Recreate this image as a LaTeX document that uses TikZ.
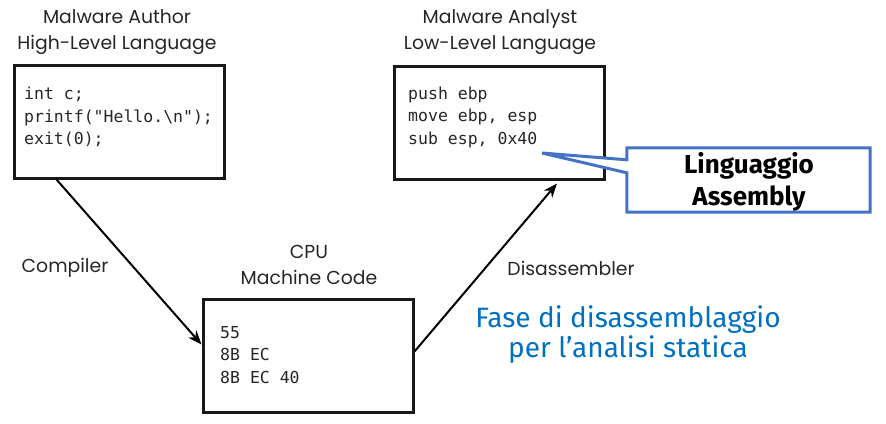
\documentclass[tikz,border=0pt]{standalone}
\usepackage{fontspec}
\setmainfont{Poppins}
\newfontfamily\codefont{DejaVu Sans Mono}
\newfontfamily\handfont{Fira Sans}
\usetikzlibrary{arrows.meta,calc}
\definecolor{calloutblue}{RGB}{68,114,196}
\definecolor{noteblue}{RGB}{0,112,192}
\tikzset{
  box/.style={draw=black!90, line width=3pt, fill=white, minimum width=210pt, minimum height=113pt, inner sep=0pt},
  code/.style={font=\codefont\fontsize{16.5}{22.5}\selectfont, align=left, anchor=west, inner sep=0pt, text=black!85},
  lbl/.style={font=\fontsize{18.8}{26}\selectfont, align=center, inner sep=0pt, text=black!85},
  flow/.style={line width=2pt, -{Stealth[length=14pt,width=11pt]}},
  note/.style={font=\handfont\fontsize{28}{30}\selectfont, align=center, text=noteblue, inner sep=0pt},
  calltext/.style={font=\handfont\bfseries\fontsize{26}{32}\selectfont, align=center, inner sep=0pt}
}
\begin{document}
\begin{tikzpicture}[x=1pt,y=-1pt]
\useasboundingbox (0,0) rectangle (886,423);
% boxes
\node[box] (hl) at (119,121.5) {};
\node[box] (ll) at (499.5,122.5) {};
\node[box] (mc) at (308,355.5) {};
% headers
\node[lbl] (hlh) at (117,32) {Malware Author\\High-Level Language};
\node[lbl] (llh) at (500,32) {Malware Analyst\\Low-Level Language};
\node[lbl] (mch) at (309,265) {CPU\\Machine Code};
% code
\node[code] (hlc) at (24,117) {int c;\\printf("Hello.\textbackslash n");\\exit(0);};
\node[code] (llc) at (408,117) {push ebp\\move ebp, esp\\sub esp, 0x40};
\node[code] (mcc) at (220,355) {55\\8B EC\\8B EC 40};
% arrows
\coordinate (a1s) at ($(hl.south west)+(44,0)$);
\coordinate (a1e) at ($(mc.west)+(0,-11)$);
\draw[flow] (a1s) -- (a1e);
\coordinate (a2s) at ($(mc.east)+(0,-4)$);
\coordinate (a2e) at ($(ll.south east)+(-49,3)$);
\draw[flow] (a2s) -- (a2e);
\node[lbl] (comp) at (65,268) {Compiler};
\node[lbl] (dis) at (571,268) {Disassembler};
% callout
\node[minimum width=243pt, minimum height=64pt, inner sep=0pt] (call) at (748.5,180) {};
\coordinate (tip) at (542,153);
\draw[calloutblue, line width=3pt, fill=white, line join=miter]
  (call.north west) -- (call.north east) -- (call.south east) -- (call.south west)
  -- ($(call.north west)+(0,25)$) -- (tip) -- ($(call.north west)+(0,12)$) -- cycle;
\node[calltext] (callt) at (749,182) {Linguaggio\\Assembly};
% note
\node[note] (fase) at (628,335) {Fase di disassemblaggio\\per l’analisi statica};
\end{tikzpicture}
\end{document}
